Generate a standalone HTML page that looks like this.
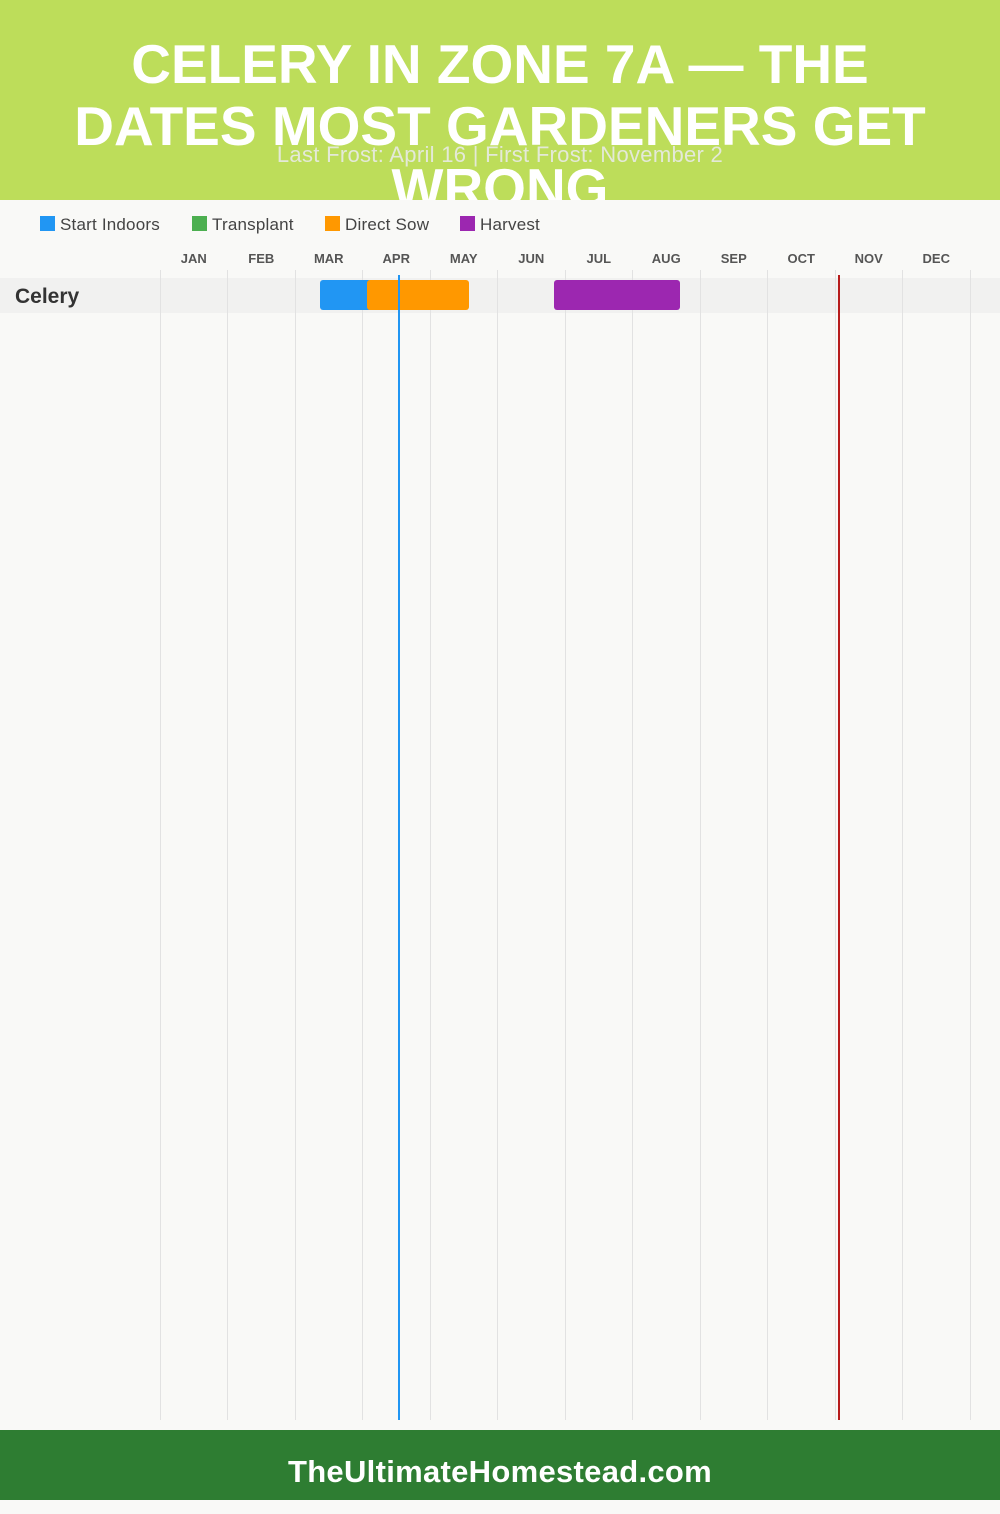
<!DOCTYPE html>
<html><head><style>
body{margin:0;width:1000px;height:1500px;background:#f9f9f7;position:relative;font-family:"Liberation Sans",sans-serif;overflow:hidden}
.hdr{position:absolute;left:0;top:0;width:1000px;height:200px;background:#bddd5a;overflow:hidden}
.t{position:absolute;left:0;width:1000px;text-align:center;color:#fff;font-weight:bold;font-size:55px;line-height:62px;top:33px;letter-spacing:0px}
.sub{position:absolute;left:0;width:1000px;top:142px;text-align:center;color:#e4e9d8;font-size:22px;letter-spacing:0.3px}
.lg{position:absolute;top:215px;font-size:17px;color:#444;letter-spacing:0.2px}
.lg i{display:inline-block;width:15px;height:15px;vertical-align:-1px;margin-right:5px}
.m{position:absolute;top:251px;width:67.5px;text-align:center;font-size:13px;font-weight:bold;color:#555}
.g{position:absolute;top:270px;height:1150px;width:1px;background:#e2e2e2}
.bar{position:absolute;top:280px;height:30px;border-radius:3px}
.foot{position:absolute;left:0;top:1430px;width:1000px;height:70px;background:#2e7d32;color:#fff;font-weight:bold;font-size:31px;text-align:center;line-height:84px;letter-spacing:0.3px}
</style></head><body>
<div class="hdr"><div class="t">CELERY IN ZONE 7A — THE<br>DATES MOST GARDENERS GET<br>WRONG</div><div class="sub">Last Frost: April 16 | First Frost: November 2</div></div>
<div class="lg" style="left:40px"><i style="background:#2196f3"></i>Start Indoors</div>
<div class="lg" style="left:192px"><i style="background:#4caf50"></i>Transplant</div>
<div class="lg" style="left:325px"><i style="background:#ff9800"></i>Direct Sow</div>
<div class="lg" style="left:460px"><i style="background:#9c27b0"></i>Harvest</div>
<div class="m" style="left:160px">JAN</div><div class="m" style="left:227.5px">FEB</div><div class="m" style="left:295px">MAR</div><div class="m" style="left:362.5px">APR</div><div class="m" style="left:430px">MAY</div><div class="m" style="left:497.5px">JUN</div><div class="m" style="left:565px">JUL</div><div class="m" style="left:632.5px">AUG</div><div class="m" style="left:700px">SEP</div><div class="m" style="left:767.5px">OCT</div><div class="m" style="left:835px">NOV</div><div class="m" style="left:902.5px">DEC</div>
<div style="position:absolute;left:0;top:278px;width:1000px;height:35px;background:#f1f1f0"></div>
<div class="g" style="left:160px"></div><div class="g" style="left:227px"></div><div class="g" style="left:295px"></div><div class="g" style="left:362px"></div><div class="g" style="left:430px"></div><div class="g" style="left:497px"></div><div class="g" style="left:565px"></div><div class="g" style="left:632px"></div><div class="g" style="left:700px"></div><div class="g" style="left:767px"></div><div class="g" style="left:835px"></div><div class="g" style="left:902px"></div><div class="g" style="left:970px"></div>
<div style="position:absolute;left:15px;top:285px;font-size:21px;font-weight:bold;color:#333">Celery</div>
<div class="bar" style="left:320px;width:52px;background:#2196f3"></div>
<div class="bar" style="left:367px;width:102px;background:#ff9800"></div>
<div class="bar" style="left:554px;width:126px;background:#9c27b0"></div>
<div style="position:absolute;left:398px;top:275px;width:2px;height:1145px;background:#2196f3"></div>
<div style="position:absolute;left:838px;top:275px;width:2px;height:1145px;background:#b71c1c"></div>
<div class="foot">TheUltimateHomestead.com</div>
</body></html>
